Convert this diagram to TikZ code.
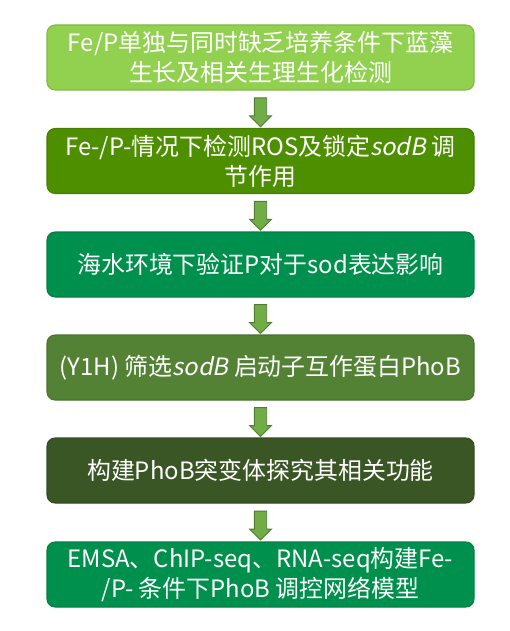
\documentclass[tikz,border=0pt]{standalone}
\usepackage{fontspec}
\setmainfont{Noto Sans CJK SC}[AutoFakeSlant=0.2]
\usetikzlibrary{shapes.arrows,positioning}
\definecolor{vertclair}{HTML}{92D050}
\definecolor{vertpomme}{HTML}{4E8F00}
\definecolor{vertmer}{HTML}{00904E}
\definecolor{vertolive}{HTML}{548235}
\definecolor{vertsombre}{HTML}{3B5625}
\definecolor{vertfleche}{HTML}{70AD47}

\begin{document}
\begin{tikzpicture}[font=\fontsize{13.6}{17}\selectfont,
				box/.style={draw=#1!88!black,fill=#1,rounded corners=0.16cm,line width=0.6pt,
					minimum width=8.54cm,minimum height=1.3cm,text=white,
					align=center,inner sep=2pt},
				fleche/.style={single arrow,draw=vertfleche!72!black,fill=vertfleche,line width=0.5pt,
					minimum height=0.58cm,minimum width=0.42cm,single arrow head extend=0.095cm,
					single arrow head indent=0pt,inner sep=0.115cm,rotate=-90}]
				
				\useasboundingbox (0,0) rectangle (10.18,-12.62);
				
				\node[box=vertclair]  (B1) at (5.21,-1.15)  {Fe/P单独与同时缺乏培养条件下蓝藻\\生长及相关生理生化检测};
				\node[box=vertpomme]  (B2) at (5.21,-3.22)  {Fe-/P-情况下检测ROS及锁定\textit{sodB} 调\\节作用};
				\node[box=vertmer]    (B3) at (5.21,-5.29)  {海水环境下验证P对于sod表达影响};
				\node[box=vertolive]  (B4) at (5.21,-7.35)  {(Y1H) 筛选\textit{sodB} 启动子互作蛋白PhoB};
				\node[box=vertsombre] (B5) at (5.21,-9.41)  {构建PhoB突变体探究其相关功能};
				\node[box=vertmer]    (B6) at (5.21,-11.49) {EMSA、ChIP-seq、RNA-seq构建Fe-\\/P- 条件下PhoB 调控网络模型};
				
				\path (B1.south) -- (B2.north) node[midway,fleche]{};
				\path (B2.south) -- (B3.north) node[midway,fleche]{};
				\path (B3.south) -- (B4.north) node[midway,fleche]{};
				\path (B4.south) -- (B5.north) node[midway,fleche]{};
				\path (B5.south) -- (B6.north) node[midway,fleche]{};
			\end{tikzpicture}
\end{document}
